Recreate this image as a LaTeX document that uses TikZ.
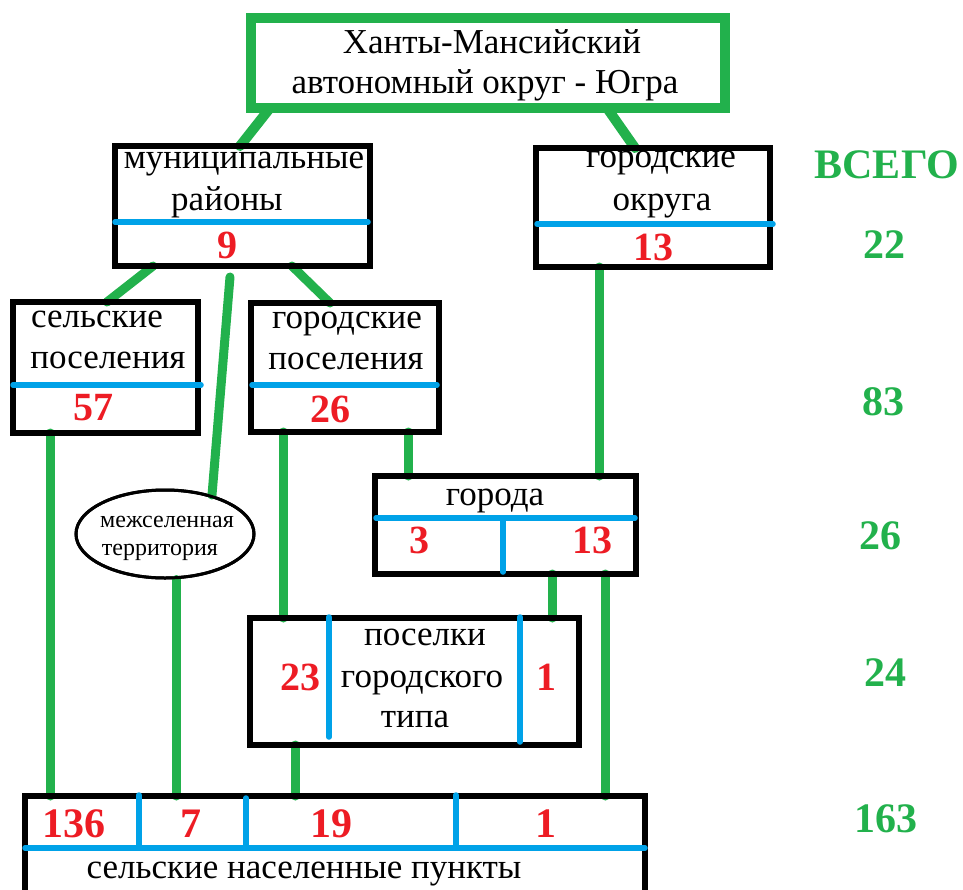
\documentclass[tikz,border=0pt]{standalone}
\usepackage{fontspec}
\setmainfont{Liberation Serif}
\usetikzlibrary{shapes.geometric,calc}
\definecolor{pgreen}{RGB}{34,177,76}
\definecolor{pblue}{RGB}{0,162,232}
\definecolor{pred}{RGB}{237,28,36}
\tikzset{
  box/.style={draw=black,line width=6.5pt,rectangle,inner sep=0pt,outer sep=0pt},
  gline/.style={draw=pgreen,line width=9pt,line cap=round},
  bline/.style={draw=pblue,line width=5.5pt,line cap=round},
  txt/.style={anchor=base,inner sep=0pt,font=\fontsize{35}{42}\selectfont},
  smalltxt/.style={anchor=base,inner sep=0pt,font=\fontsize{24}{28}\selectfont},
  rnum/.style={anchor=base,inner sep=0pt,text=pred,font=\fontsize{40}{48}\selectfont\bfseries},
  rnumb/.style={anchor=base,inner sep=0pt,text=pred,font=\fontsize{42}{48}\selectfont\bfseries},
  gnum/.style={anchor=base,inner sep=0pt,text=pgreen,font=\fontsize{42}{48}\selectfont\bfseries}
}
\begin{document}
\begin{tikzpicture}[x=1pt,y=-1pt]
\useasboundingbox (0,0) rectangle (963,889);
\clip (0,0) rectangle (963,889);
% box nodes
\node[box,draw=pgreen,line width=10pt,minimum width=474pt,minimum height=90pt] (top) at (488,63) {};
\node[box,minimum width=255pt,minimum height=120pt] (mr) at (242.5,206) {};
\node[box,minimum width=234pt,minimum height=119pt] (go) at (653,207.5) {};
\node[box,minimum width=185pt,minimum height=131pt] (sp) at (105.5,367.5) {};
\node[box,minimum width=188pt,minimum height=129pt] (gp) at (345,367.5) {};
\node[box,minimum width=261pt,minimum height=98pt] (gor) at (505.5,525) {};
\node[box,minimum width=329pt,minimum height=127pt] (pgt) at (414.5,681.5) {};
\node[box,minimum width=620pt,minimum height=114pt] (snp) at (335,853) {};
\node[ellipse,draw=black,line width=3pt,minimum width=178pt,minimum height=88pt,inner sep=0pt] (ell) at (165,534) {};
% connector coordinates
\coordinate (a1) at ($(top.south west)+(19,0)$);
\coordinate (a2) at ($(mr.north west)+(125,0)$);
\coordinate (b1) at ($(top.south west)+(356,0)$);
\coordinate (b2) at ($(go.north west)+(99,0)$);
\coordinate (c1) at ($(mr.south west)+(38,0)$);
\coordinate (c2) at ($(sp.north west)+(94,0)$);
\coordinate (d1) at ($(mr.south west)+(177,0)$);
\coordinate (d2) at ($(gp.north west)+(79,0)$);
\coordinate (e1) at ($(mr.south west)+(115,11)$);
\coordinate (e2) at (212,495);
\coordinate (f1) at ($(go.south west)+(63,0)$);
\coordinate (f2) at ($(gor.north west)+(224,0)$);
\coordinate (g1) at ($(sp.south west)+(37,0)$);
\coordinate (g2) at ($(snp.north west)+(25,0)$);
\coordinate (h1) at ($(ell.south)+(11,0)$);
\coordinate (h2) at ($(snp.north west)+(151,0)$);
\coordinate (i1) at ($(gp.south west)+(32,0)$);
\coordinate (i2) at ($(pgt.north west)+(33,0)$);
\coordinate (j1) at ($(gp.south west)+(157,0)$);
\coordinate (j2) at ($(gor.north west)+(33,0)$);
\coordinate (k1) at ($(gor.south west)+(177,0)$);
\coordinate (k2) at ($(pgt.north west)+(302,0)$);
\coordinate (l1) at ($(gor.south west)+(230,0)$);
\coordinate (l2) at ($(snp.north west)+(580,0)$);
\coordinate (m1) at ($(pgt.south west)+(45,0)$);
\coordinate (m2) at ($(snp.north west)+(270,0)$);
% green connectors
\draw[gline,line width=10pt] (a1) -- (a2);
\draw[gline,line width=10pt] (b1) -- (b2);
\draw[gline] (c1) -- (c2);
\draw[gline] (d1) -- (d2);
\draw[gline] (e1) -- (e2);
\draw[gline] (f1) -- (f2);
\draw[gline] (g1) -- (g2);
\draw[gline] (h1) -- (h2);
\draw[gline] (i1) -- (i2);
\draw[gline] (j1) -- (j2);
\draw[gline] (k1) -- (k2);
\draw[gline] (l1) -- (l2);
\draw[gline] (m1) -- (m2);
% redraw borders on top of connector ends
\draw[draw=pgreen,line width=10pt] (top.north west) rectangle (top.south east);
\draw[line width=6.5pt] (mr.north west) rectangle (mr.south east);
\draw[line width=6.5pt] (go.north west) rectangle (go.south east);
\draw[line width=6.5pt] (sp.north west) rectangle (sp.south east);
\draw[line width=6.5pt] (gp.north west) rectangle (gp.south east);
\draw[line width=6.5pt] (gor.north west) rectangle (gor.south east);
\draw[line width=6.5pt] (pgt.north west) rectangle (pgt.south east);
\draw[line width=6.5pt] (snp.north west) rectangle (snp.south east);
\draw[line width=3pt] (ell) ellipse [x radius=89pt,y radius=44pt];
% blue dividers
\draw[bline] ($(mr.west)+(0,16)$) -- ($(mr.east)+(-2,16)$);
\draw[bline] ($(go.west)+(1,16.5)$) -- ($(go.east)+(3,16.5)$);
\draw[bline] ($(sp.west)+(0,17.5)$) -- ($(sp.east)+(3,17.5)$);
\draw[bline] ($(gp.west)+(1,17.5)$) -- ($(gp.east)+(-2,17.5)$);
\draw[bline] ($(gor.west)+(1,-7)$) -- ($(gor.east)+(-1,-7)$);
\draw[bline] ($(gor.west)+(128,-7)$) -- ($(gor.south west)+(128,-2)$);
\draw[bline] ($(pgt.north west)+(79,-1)$) -- ($(pgt.south west)+(79,-8)$);
\draw[bline] ($(pgt.north west)+(270,-1)$) -- ($(pgt.south west)+(270,-3)$);
\draw[bline] ($(snp.north west)+(0,52)$) -- ($(snp.north east)+(0,52)$);
\draw[bline] ($(snp.north west)+(114,-1)$) -- ($(snp.north west)+(114,52)$);
\draw[bline] ($(snp.north west)+(221,2)$) -- ($(snp.north west)+(221,52)$);
\draw[bline] ($(snp.north west)+(431,-1)$) -- ($(snp.north west)+(431,52)$);
% texts
\node[txt] (t1) at (492,53) {Ханты-Мансийский};
\node[txt] (t2) at (485,93) {автономный округ - Югра};
\node[txt] (t3) at (244,168) {муниципальные};
\node[txt] (t4) at (227,210) {районы};
\node[rnum] (n1) at (227,258) {9};
\node[txt] (t5) at (661,167) {городские};
\node[txt] (t6) at (662,210) {округа};
\node[rnum] (n2) at (653,260) {13};
\node[txt] (t7) at (97,327) {сельские};
\node[txt] (t8) at (108,368) {поселения};
\node[rnum] (n3) at (93,420) {57};
\node[txt] (t9) at (347,328) {городские};
\node[txt] (t10) at (346,369) {поселения};
\node[rnum] (n4) at (330,422) {26};
\node[txt] (t11) at (495,505) {города};
\node[rnum] (n5) at (419,553) {3};
\node[rnum] (n6) at (592,553) {13};
\node[smalltxt] (t12) at (167,527) {межселенная};
\node[smalltxt] (t13) at (160,555) {территория};
\node[txt] (t14) at (425,645) {поселки};
\node[txt] (t15) at (422,687) {городского};
\node[txt] (t16) at (415,727) {типа};
\node[rnum] (n7) at (300,690) {23};
\node[rnum] (n8) at (546,690) {1};
\node[rnumb] (n9) at (74,837) {136};
\node[rnumb] (n10) at (191,837) {7};
\node[rnumb] (n11) at (331,837) {19};
\node[rnumb] (n12) at (546,837) {1};
\node[txt] (t17) at (304,878) {сельские населенные пункты};
\node[gnum] (v0) at (887,178) {ВСЕГО};
\node[gnum] (v1) at (884,258) {22};
\node[gnum] (v2) at (883,415) {83};
\node[gnum] (v3) at (880,549) {26};
\node[gnum] (v4) at (885,686) {24};
\node[gnum] (v5) at (886,832) {163};
\end{tikzpicture}
\end{document}
